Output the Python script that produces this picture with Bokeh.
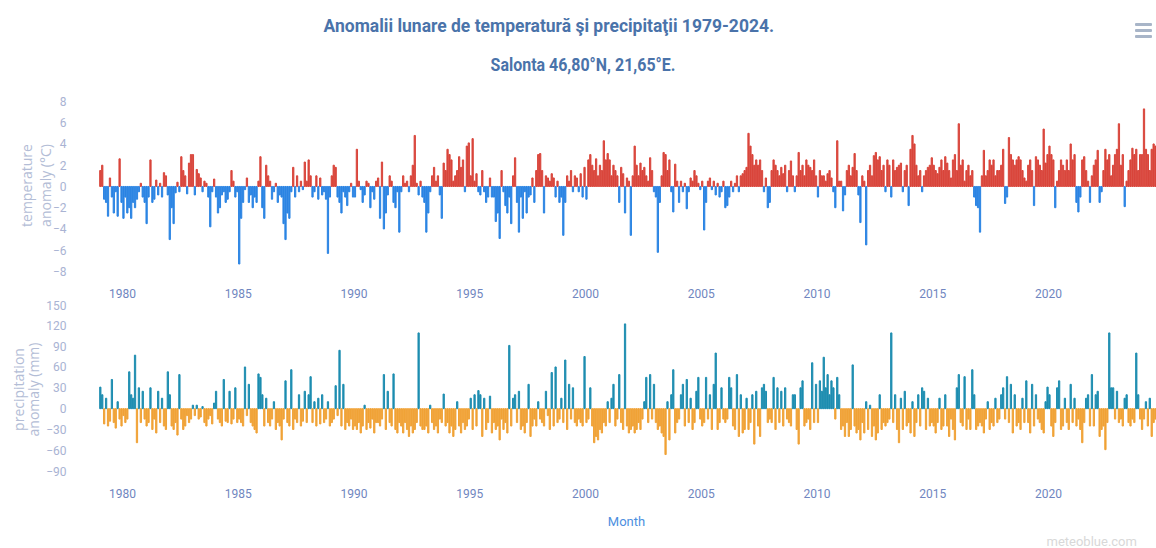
from bokeh.plotting import figure
from bokeh.models import Range1d, FixedTicker, ColumnDataSource, Div, Title
from bokeh.layouts import column
from bokeh.embed import file_html
from bokeh.resources import INLINE

# ---------------- data ----------------
start_year = 1979
tick_years = [1980, 1985, 1990, 1995, 2000, 2005, 2010, 2015, 2020]
tick_labels = [str(y) for y in tick_years]
temp_ticks = [-8, -6, -4, -2, 0, 2, 4, 6, 8]
prec_ticks = [-90, -60, -30, 0, 30, 60, 90, 120, 150]

title_text = "Anomalii lunare de temperatură şi precipitaţii 1979-2024."
subtitle_text = "Salonta 46,80°N, 21,65°E."
temp_axis_title = "temperature\nanomaly (°C)"
prec_axis_title = "precipitation\nanomaly (mm)"
x_axis_title = "Month"
credit_text = "meteoblue.com"

# monthly temperature anomaly (°C), Jan 1979 .. Aug 2024
temperature_anomaly = [
    1.5, 2.0, -1.2, -1.5, -2.8, 0.8, -1.0, -2.5, -0.5, -2.8, 2.6, -1.5,     # 1979
    -3.0, -1.0, -2.5, -2.0, -3.0, -1.5, -2.0, -1.2, -0.5, 0.3, -1.0, -1.5,  # 1980
    -3.5, -1.0, 2.5, -1.5, -1.2, 0.6, -0.8, 0.3, -1.0, 1.3, 1.0, -0.8,      # 1981
    -5.0, -2.0, -3.5, -0.6, 0.4, -0.5, 2.8, 1.5, 1.0, -0.7, 2.2, 3.0,       # 1982
    3.0, -0.8, 1.6, 1.2, 0.8, -0.5, 0.5, 0.3, -1.0, -3.8, -0.5, 0.7,        # 1983
    -1.0, -2.5, -2.0, -0.8, -0.5, -1.5, -1.2, -0.5, 1.5, 0.5, -1.0, -0.5,   # 1984
    -7.3, -3.0, -1.5, -0.3, 0.8, -1.5, -0.8, -2.0, -1.0, -1.5, 0.5, 2.8,    # 1985
    -2.0, -3.0, 2.0, 1.0, 0.5, -1.2, -0.5, 0.3, -1.5, -0.8, -1.0, -3.5,     # 1986
    -5.0, -2.5, -3.0, -0.5, 1.8, -1.0, 1.0, -0.5, 0.5, -0.3, 2.3, 0.5,      # 1987
    2.5, 1.0, -1.0, -0.5, 1.0, -1.2, 0.8, -0.8, -0.5, -1.2, -6.3, -1.0,     # 1988
    1.0, 2.0, 1.8, -1.0, -1.5, -2.5, -0.5, -1.0, -1.8, -0.5, 0.3, -1.0,     # 1989
    -1.0, 3.5, 0.5, -0.3, -1.5, -0.8, 0.5, 0.3, -2.0, -0.5, -1.2, 0.5,      # 1990
    0.8, -3.0, 2.3, -4.0, -2.5, -0.8, 1.0, 0.5, -1.5, -2.0, -0.5, -4.3,     # 1991
    -0.5, 1.0, 0.3, 0.5, -0.5, 1.0, 2.0, 4.8, 0.3, -0.8, 0.5, -1.0,         # 1992
    -1.5, -4.3, -2.5, -0.5, 1.0, 1.8, 0.5, 1.0, -0.8, -3.0, 2.2, 1.5,       # 1993
    3.5, 3.0, 2.5, 0.5, 1.0, 1.5, 2.8, 1.8, 2.5, -0.5, 3.8, 4.1,            # 1994
    1.0, 4.5, 0.5, 1.2, -0.5, -0.8, 1.5, -0.5, -1.5, -1.0, 0.8, -1.0,       # 1995
    -1.0, -3.3, -2.5, -4.9, 1.5, -0.5, -1.8, -2.5, -1.0, -3.5, 1.0, 2.7,    # 1996
    -1.5, -4.3, -1.0, -3.0, -0.5, -2.5, -1.0, -0.8, 0.8, -1.5, 1.5, 3.0,    # 1997
    3.1, 1.5, -2.5, 1.0, 0.8, 0.5, 1.2, 0.8, -1.0, 0.5, -1.5, -1.0,         # 1998
    -4.6, -1.5, 1.0, 0.5, 1.5, -0.5, 1.0, 0.8, -0.5, 1.2, -1.0, 1.8,        # 1999
    -1.2, 2.5, 3.0, 2.0, 1.5, 2.6, 1.0, 2.0, 1.5, 4.3, 2.5, 3.1,            # 2000
    2.5, 1.0, 2.0, 1.5, 1.0, -1.5, 1.8, 1.2, -2.5, 0.8, 0.5, -4.6,          # 2001
    1.0, 3.8, 2.0, 1.0, 2.2, 1.5, 1.8, 1.0, 0.5, 2.7, 1.5, -0.5,            # 2002
    -1.0, -6.2, -1.5, 1.0, 3.2, 3.0, 1.5, 2.5, -0.5, -2.4, 2.1, 0.5,        # 2003
    -1.5, 0.5, -0.5, 0.3, -2.1, -0.5, 0.8, 0.5, 1.5, 1.0, 0.3, -0.3,        # 2004
    0.5, -4.1, -1.5, 0.5, 0.8, -0.3, 0.5, -0.8, 0.3, -1.0, -0.5, 0.5,       # 2005
    -2.0, -1.8, -1.0, 0.5, -0.5, 0.3, 1.0, -0.5, 1.0, 1.2, 1.5, 1.8,        # 2006
    5.0, 3.8, 3.0, 2.0, 2.5, 2.0, 2.5, 1.5, -0.5, 0.8, -2.0, -1.5,          # 2007
    1.5, 2.5, 2.0, 1.5, 1.0, 1.8, 1.2, 2.0, -0.5, 1.5, 2.4, 1.0,            # 2008
    -0.5, 1.0, 3.2, 1.5, 2.0, 1.0, 2.5, 2.0, 1.8, 1.5, 2.5, 1.0,            # 2009
    -1.0, 1.5, 1.0, 1.0, 0.5, 1.2, 1.5, 0.8, -0.5, -2.0, 4.3, 0.5,          # 2010
    0.5, -2.3, -0.8, 1.5, 2.0, 1.0, 1.8, 3.1, 1.5, -0.8, -3.4, 1.0,         # 2011
    0.5, -5.5, 1.5, 2.0, 1.0, 2.9, 3.2, 2.5, 2.8, 1.5, 2.0, -0.5,           # 2012
    2.5, 2.0, -1.0, 2.5, 1.5, 1.8, 2.0, 2.2, -0.5, 1.5, 2.0, -1.8,          # 2013
    3.5, 4.8, 4.0, 2.0, 1.0, 1.5, -0.5, 1.0, 1.5, 1.8, 2.0, 2.7,            # 2014
    2.0, 1.5, 1.2, 1.8, 2.5, 1.5, 2.8, 2.2, 1.5, 0.8, 2.5, 3.0,             # 2015
    1.5, 5.9, 2.0, 2.5, 0.5, 1.5, 2.0, 1.0, 1.5, -1.0, -1.8, -2.0,          # 2016
    -4.3, 1.0, 3.4, 1.0, 1.5, 2.5, 2.0, 2.5, 1.0, 1.5, 1.5, 2.0,            # 2017
    3.5, -1.6, -1.0, 4.6, 3.0, 2.5, 2.0, 2.5, 2.8, 2.5, 1.5, 0.8,           # 2018
    0.5, 2.0, 2.5, 1.5, -1.8, 2.8, 2.5, 2.0, 1.5, 5.4, 2.2, 3.0,            # 2019
    3.8, 3.0, 2.5, -2.0, 0.5, 1.5, 2.5, 2.0, 1.5, 2.5, 1.5, 4.0,            # 2020
    2.5, 3.0, -1.5, -2.4, -1.0, 2.5, 2.8, 1.5, 0.5, -1.5, 1.0, 2.0,         # 2021
    2.5, 3.4, -1.5, -0.5, 1.5, 3.5, 2.5, 3.0, 1.0, 2.0, 3.0, 3.5,           # 2022
    5.9, 2.0, 3.0, -1.9, 0.5, 1.5, 2.5, 3.6, 3.0, 3.5, 1.5, 3.0,            # 2023
    3.0, 7.3, 3.5, 3.0, 1.5, 3.5, 4.0, 3.8,                                 # 2024
]

# monthly precipitation anomaly (mm), Jan 1979 .. Aug 2024
precipitation_anomaly = [
    31, 20, -22, 15, -25, -18, 42, -20, -28, 10, -15, -25,      # 1979
    -10, -20, -15, 53, 20, 15, 77, -49, 30, -20, 25, -15,       # 1980
    -25, -20, 30, -30, -15, -35, 25, -20, 15, -25, -30, 53,     # 1981
    20, -25, -30, -20, -38, 49, -15, -30, -25, -10, -20, -15,   # 1982
    5, -10, 5, -15, -12, 3, -20, -25, -15, -10, -22, 8,         # 1983
    25, -15, -20, -25, 42, -18, -20, 25, -22, -15, 30, -20,     # 1984
    -15, -20, -25, 60, -10, 35, -20, -25, -30, -35, 50, 45,     # 1985
    20, -25, 15, -20, -25, -15, 10, -30, -20, -25, -45, -15,    # 1986
    40, -20, -25, 56, -30, -15, -20, 20, -25, -18, 25, -20,     # 1987
    20, 46, -20, 10, -25, 15, -22, 20, -20, -15, 10, -25,       # 1988
    -20, -15, 33, -10, 84, -25, 35, -30, -20, -25, -15, -30,    # 1989
    -25, -30, -20, -35, -25, 5, -30, -20, -28, -15, -35, -20,   # 1990
    -20, -25, -15, 49, -30, 25, -20, -25, 50, -30, -35, -20,    # 1991
    -25, -35, -20, -30, -40, -25, -35, -30, -20, 109, -25, -30, # 1992
    -30, -25, -35, 5, -20, -30, -25, -35, -15, -20, 21, -25,    # 1993
    -20, -35, -25, -40, -30, 10, -25, -35, -20, -30, -25, -15,  # 1994
    15, -30, 20, -25, 26, 20, -40, 15, -30, -20, 18, -35,       # 1995
    -20, -30, -25, -45, -15, -30, -20, -35, 91, -25, 15, 20,    # 1996
    -20, 25, -30, -25, -35, -20, 35, -40, -25, -15, -25, 10,    # 1997
    -15, -20, -25, 25, -10, -30, 52, -25, 60, -20, -15, 15,     # 1998
    -20, 70, -30, 35, -15, 30, -20, -25, -15, -20, -25, 75,     # 1999
    -20, -15, 30, -25, -49, -40, -45, -30, -35, -20, -25, 10,   # 2000
    -20, 15, 35, -25, -15, 49, -20, -30, 122, -25, -35, -30,    # 2001
    -25, -35, -30, -20, -30, -15, 10, 45, -20, 49, -15, 35,     # 2002
    -20, -30, -25, -35, -40, -66, 10, -45, 20, 56, -35, -20,    # 2003
    -15, 20, 35, -25, 42, -20, 15, -30, -20, 25, 45, -15,       # 2004
    -25, -20, 45, -15, 20, -30, 35, 80, -30, -20, 30, -15,      # 2005
    -20, -15, 45, 30, -25, -30, 49, -40, 20, -35, -30, 15,      # 2006
    -30, -20, 20, -51, 25, -25, -40, 30, 35, 25, -20, -15,      # 2007
    -20, 45, -30, 30, -20, 25, -25, 30, -15, -20, -25, 20,      # 2008
    20, -30, -51, 30, 40, -25, -20, -15, -30, 66, -20, 35,      # 2009
    -20, 40, 25, 74, 30, 49, 20, 40, 30, -15, 45, 20,           # 2010
    -30, -25, -40, -20, -40, -30, 63, -25, -35, -30, -45, -20,  # 2011
    -35, 10, -30, 5, -40, -25, -45, -35, 20, -30, -20, -25,     # 2012
    -20, -15, 109, -20, 20, -30, -49, 15, -30, 25, -25, -20,    # 2013
    -35, 10, -40, -20, 20, -25, 30, 25, -30, 15, -25, -20,      # 2014
    -25, -35, -20, 15, -30, -25, 20, -25, -40, -15, -30, -45,   # 2015
    30, 49, -20, -25, 46, -30, -15, -30, 56, 20, -30, -25,      # 2016
    -20, -25, -35, -15, 10, -30, -20, -25, 15, -20, -15, 20,    # 2017
    30, -15, 46, -20, 35, -35, 20, -25, -20, -30, 15, -20,      # 2018
    40, -20, -35, 35, -25, 20, -15, -20, -30, -35, 10, 31,      # 2019
    20, -25, -40, -20, 30, 40, -30, -25, 15, -20, -30, 35,      # 2020
    -20, 15, -25, -15, -30, -49, -20, 15, 20, -25, 49, -25,     # 2021
    20, 25, -40, -30, -25, -59, -20, 109, 30, 30, -15, 25,      # 2022
    -20, -15, -25, 15, 20, -20, -25, -15, -20, 80, 20, -15,     # 2023
    -30, -15, 10, -25, 15, -40, -20, -15,                       # 2024
]

# ---------------- styling ----------------
FONT = "Roboto"
AXT_FONT = "Open Sans"
TITLE_COLOR = "#4a73aa"
YTICK_COLOR = "#a9b3d3"
XTICK_COLOR = "#7086c0"
AXIS_TITLE_COLOR = "#b3bdd6"
T_POS, T_NEG = "#d9453b", "#2b84e3"
P_POS, P_NEG = "#1d8db0", "#f0a236"

W = 1156
month_x = [start_year + (i + 0.5) / 12.0 for i in range(len(temperature_anomaly))]
bar_w = 0.66 / 12.0

t_src = ColumnDataSource(dict(
    x=month_x, v=temperature_anomaly,
    c=[T_POS if v >= 0 else T_NEG for v in temperature_anomaly]))
p_src = ColumnDataSource(dict(
    x=month_x, v=precipitation_anomaly,
    c=[P_POS if v >= 0 else P_NEG for v in precipitation_anomaly]))

x_range = Range1d(1978.877, 2024.665)


def style(p, yticks, ytitle, ytitle_standoff, ytitle_lh, xlabel_standoff):
    p.grid.visible = False
    p.outline_line_color = None
    p.background_fill_color = "white"
    p.border_fill_color = "white"
    p.xaxis.ticker = FixedTicker(ticks=tick_years)
    p.xaxis.major_label_overrides = {y: s for y, s in zip(tick_years, tick_labels)}
    p.yaxis.ticker = FixedTicker(ticks=yticks)
    for ax in (p.xaxis, p.yaxis):
        ax.axis_line_color = None
        ax.major_tick_line_color = None
        ax.minor_tick_line_color = None
        ax.major_label_text_font = FONT
        ax.major_label_text_font_size = "12px"
    p.xaxis.major_label_text_color = XTICK_COLOR
    p.xaxis.major_label_standoff = xlabel_standoff
    p.yaxis.major_label_text_color = YTICK_COLOR
    p.yaxis.major_label_standoff = 24
    p.yaxis.axis_label = ytitle
    p.yaxis.axis_label_text_font = AXT_FONT
    p.yaxis.axis_label_text_font_style = "normal"
    p.yaxis.axis_label_text_font_size = "14px"
    p.yaxis.axis_label_text_color = AXIS_TITLE_COLOR
    p.yaxis.axis_label_text_line_height = ytitle_lh
    p.yaxis.axis_label_standoff = ytitle_standoff


# ---------------- header (title, subtitle, menu icon) ----------------
bar_css = "position:absolute;left:1135px;width:17px;height:3px;background:#a8b5c8;border-radius:1px;"
header_html = (
    f'<div style="position:relative;width:{W}px;height:80px;font-family:Roboto;'
    f'font-weight:bold;font-size:19px;color:{TITLE_COLOR};text-align:center;">'
    f'<div style="position:absolute;left:-29px;top:0;width:{W}px;height:52px;line-height:52px;">'
    f'<span style="display:inline-block;transform:scaleX(0.92);white-space:nowrap;">{title_text}</span></div>'
    f'<div style="position:absolute;left:5px;top:50px;width:{W}px;height:30px;line-height:30px;">'
    f'<span style="display:inline-block;transform:scaleX(0.84);white-space:nowrap;">{subtitle_text}</span></div>'
    f'<div style="{bar_css}top:23px;"></div>'
    f'<div style="{bar_css}top:29px;"></div>'
    f'<div style="{bar_css}top:35px;"></div>'
    '</div>'
)
header = Div(text=header_html, width=W, height=80, margin=0)

# ---------------- top: temperature ----------------
top = figure(width=W, height=220, x_range=x_range, y_range=Range1d(-8.38, 8.56),
             output_backend="svg", toolbar_location=None,
             min_border_left=96, min_border_right=0, min_border_top=15, min_border_bottom=25)
style(top, temp_ticks, temp_axis_title, -5, 1.0, 7)
top.vbar(x="x", top="v", bottom=0, width=bar_w, color="c", source=t_src)

# ---------------- bottom: precipitation ----------------
bot = figure(width=W, height=248, x_range=x_range, y_range=Range1d(-99.05, 154.2),
             output_backend="svg", toolbar_location=None,
             min_border_left=96, min_border_right=0, min_border_top=1, min_border_bottom=68)
style(bot, prec_ticks, prec_axis_title, 0, 0.8, 5)
bot.vbar(x="x", top="v", bottom=0, width=bar_w, color="c", source=p_src)
bot.xaxis.axis_label = x_axis_title
bot.xaxis.axis_label_text_font = FONT
bot.xaxis.axis_label_text_font_style = "normal"
bot.xaxis.axis_label_text_font_size = "13px"
bot.xaxis.axis_label_text_color = "#4d8fe0"
bot.xaxis.axis_label_standoff = 13
bot.add_layout(Title(text=credit_text, align="left", text_font=FONT, text_font_size="13px",
                     text_font_style="normal", text_color="#d8d8d8", standoff=0, offset=950),
               "below")

layout = column(header, top, bot, spacing=0)
open("out.html", "w").write(file_html(layout, INLINE))
